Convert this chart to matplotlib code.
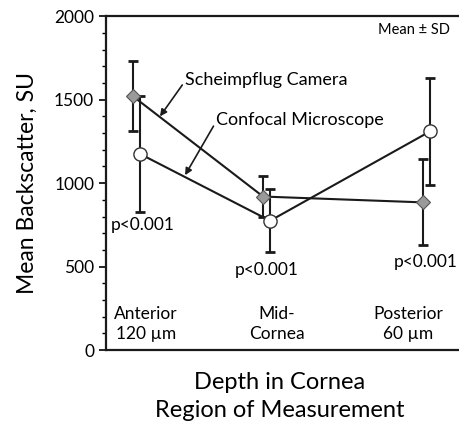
import numpy as np
import matplotlib.pyplot as plt
from matplotlib.ticker import MultipleLocator

plt.rcParams['font.family'] = ['Lato', 'DejaVu Sans']

# Data
regions = ["Anterior\n120 \u00b5m", "Mid-\nCornea", "Posterior\n60 \u00b5m"]
region_pos = [1.0, 2.0, 3.23]
scheimpflug_mean = [1520, 920, 885]
scheimpflug_sd = [210, 125, 258]
confocal_mean = [1175, 775, 1310]
confocal_sd = [345, 190, 322]
p_labels = ["p<0.001", "p<0.001", "p<0.001"]
p_label_y = [750, 480, 527]

fig = plt.figure(figsize=(4.59, 4.26), dpi=100)
ax = fig.add_axes([0.231, 0.178, 0.769, 0.784])

x = np.array(region_pos)
off = 0.027

# Scheimpflug camera (grey diamonds)
ax.errorbar(x - off, scheimpflug_mean, yerr=scheimpflug_sd, fmt='none',
            ecolor='#1a1a1a', elinewidth=1.5, capsize=3.5, capthick=2, zorder=2)
ax.plot(x - off, scheimpflug_mean, color='#1a1a1a', lw=1.5, marker='D',
        ms=7.5, mfc='#9a9a9a', mec='#555555', mew=0.8, zorder=3)

# Confocal microscope (white circles)
ax.errorbar(x + off, confocal_mean, yerr=confocal_sd, fmt='none',
            ecolor='#1a1a1a', elinewidth=1.5, capsize=3.5, capthick=2, zorder=2)
ax.plot(x + off, confocal_mean, color='#1a1a1a', lw=1.5, marker='o',
        ms=9.5, mfc='white', mec='#333333', mew=1.0, zorder=4)

ax.set_xlim(0.765, 3.48)
ax.set_ylim(0, 2000)
ax.yaxis.set_major_locator(MultipleLocator(500))
ax.yaxis.set_minor_locator(MultipleLocator(100))
ax.tick_params(axis='y', which='major', length=5, width=1.2, labelsize=12.5)
ax.tick_params(axis='y', which='minor', length=3, width=1)
ax.set_xticks([])
ax.spines['right'].set_visible(False)
for s in ['left', 'bottom', 'top']:
    ax.spines[s].set_linewidth(1.6)
    ax.spines[s].set_color('#1a1a1a')

ax.set_ylabel("Mean Backscatter, SU", fontsize=16.5, labelpad=12)
fig.text(0.61, 0.07, "Depth in Cornea\nRegion of Measurement",
         ha='center', va='center', fontsize=17, linespacing=1.42)

# category labels inside the plot
label_x = [1.073, 2.08, 3.09]
for lx, lab in zip(label_x, regions):
    ax.text(lx, 155, lab, ha='center', va='center', fontsize=12.5, linespacing=1.3)

# p-values
p_x = [1.05, 2.004, 3.22]
for px, py, pl in zip(p_x, p_label_y, p_labels):
    ax.text(px, py, pl, ha='center', va='center', fontsize=12.5)

ax.text(0.975, 0.98, "Mean \u00b1 SD", transform=ax.transAxes,
        ha='right', va='top', fontsize=10.5)

# arrows with series names
ax.annotate("Scheimpflug Camera", xy=(1.18, 1400), xytext=(1.373, 1617),
            fontsize=13, ha='left', va='center',
            arrowprops=dict(arrowstyle='-|>', color='#1a1a1a', lw=1.2,
                            mutation_scale=10, shrinkA=0, shrinkB=0,
                            relpos=(-0.01, 0.3)))
ax.annotate("Confocal Microscope", xy=(1.373, 1048), xytext=(1.613, 1377),
            fontsize=13, ha='left', va='center',
            arrowprops=dict(arrowstyle='-|>', color='#1a1a1a', lw=1.2,
                            mutation_scale=10, shrinkA=0, shrinkB=0,
                            relpos=(-0.01, 0.25)))

fig.savefig("out.png", dpi=100)
